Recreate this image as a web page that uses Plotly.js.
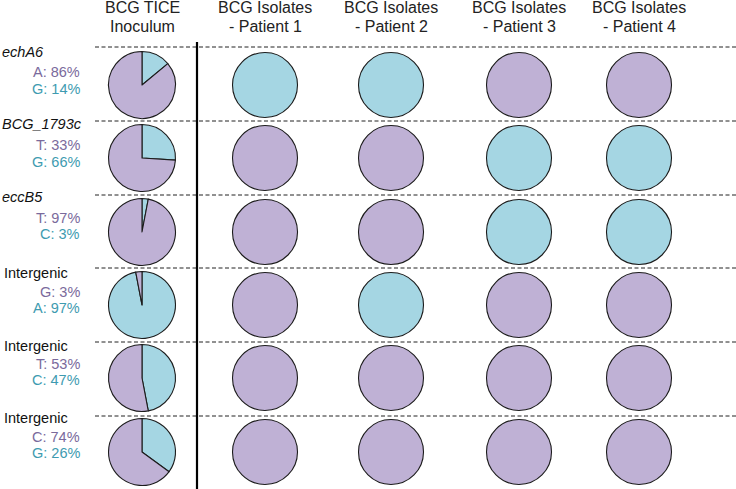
<!DOCTYPE html>
<html>
<head>
<meta charset="utf-8">
<script src="https://cdn.plot.ly/plotly-3.0.1.min.js"></script>
<style>html,body{margin:0;padding:0;background:#fff;}#chart{width:736px;height:489px;}</style>
</head>
<body>
<div id="chart"></div>
<script>
// ---- data ----
const headerLine1 = ['BCG TICE', 'BCG Isolates', 'BCG Isolates', 'BCG Isolates', 'BCG Isolates'];
const headerLine2 = ['Inoculum', '- Patient 1', '- Patient 2', '- Patient 3', '- Patient 4'];
const genes = ['echA6', 'BCG_1793c', 'eccB5', 'Intergenic', 'Intergenic', 'Intergenic'];
const geneItalic = [true, true, true, false, false, false];
const allele1Labels = ['A: 86%', 'T: 33%', 'T: 97%', 'G: 3%', 'T: 53%', 'C: 74%'];
const allele2Labels = ['G: 14%', 'G: 66%', 'C: 3%', 'A: 97%', 'C: 47%', 'G: 26%'];
// inoculum pie slices as drawn (second allele first, clockwise from 12 o'clock)
const inoculumAllele2 = [14, 26, 3, 97, 47, 35];
const inoculumAllele1 = [86, 74, 97, 3, 53, 65];
// isolates: 1 = allele 1 (purple), 2 = allele 2 (blue)
const patient1 = [2, 1, 1, 1, 1, 1];
const patient2 = [2, 1, 1, 2, 1, 1];
const patient3 = [1, 2, 2, 1, 1, 1];
const patient4 = [1, 2, 2, 1, 1, 1];

// ---- layout constants ----
const W = 736, H = 489;
const PURPLE = '#BFB1D5', BLUE = '#A5D6E3';
const PURPLE_TXT = '#7A6A9C', BLUE_TXT = '#3E9BB0';
const colX = [142, 265, 391, 519, 639];
const rowY = [85, 158, 232, 305, 378, 452];
const dashY = [47, 121, 195, 268, 342, 416];
const geneY = [52, 124, 197, 273, 346, 418];
const a1Y = [72, 145, 218, 292, 364, 437];
const a2Y = [89, 162, 234, 308, 380, 453];
const FONT = 'Liberation Sans, Arial, sans-serif';
const px = x => x / W, py = y => 1 - y / H;

function dom(cx, cy, r) {
  return {x: [px(cx - r), px(cx + r)], y: [py(cy + r), py(cy - r)]};
}
const outline = {color: '#1c1c1c', width: 1.1};
const traces = [];
for (let i = 0; i < genes.length; i++) {
  traces.push({
    type: 'pie', values: [inoculumAllele2[i], inoculumAllele1[i]],
    marker: {colors: [BLUE, PURPLE], line: outline},
    sort: false, direction: 'clockwise', rotation: 0,
    textinfo: 'none', hoverinfo: 'skip', showlegend: false,
    domain: dom(colX[0], rowY[i], 33.5)
  });
  [patient1, patient2, patient3, patient4].forEach((p, j) => {
    traces.push({
      type: 'pie', values: [1],
      marker: {colors: [p[i] === 2 ? BLUE : PURPLE], line: outline},
      sort: false, textinfo: 'none', hoverinfo: 'skip', showlegend: false,
      domain: dom(colX[j + 1], rowY[i], 32.5)
    });
  });
}

const annotations = [];
for (let j = 0; j < headerLine1.length; j++) {
  annotations.push({x: px(colX[j]), y: py(7.5), xref: 'paper', yref: 'paper', text: headerLine1[j],
    showarrow: false, xanchor: 'center', yanchor: 'middle', font: {family: FONT, size: 16, color: '#222'}});
  annotations.push({x: px(colX[j]), y: py(26.5), xref: 'paper', yref: 'paper', text: headerLine2[j],
    showarrow: false, xanchor: 'center', yanchor: 'middle', font: {family: FONT, size: 16, color: '#222'}});
}
for (let i = 0; i < genes.length; i++) {
  annotations.push({x: px(geneItalic[i] ? 0 : 2), y: py(geneY[i]), xref: 'paper', yref: 'paper',
    text: geneItalic[i] ? '<i>' + genes[i] + '</i>' : genes[i],
    showarrow: false, xanchor: 'left', yanchor: 'middle', font: {family: FONT, size: 14.5, color: '#111'}});
  annotations.push({x: px(82), y: py(a1Y[i]), xref: 'paper', yref: 'paper', text: allele1Labels[i],
    showarrow: false, xanchor: 'right', yanchor: 'middle', font: {family: FONT, size: 14.5, color: PURPLE_TXT}});
  annotations.push({x: px(82), y: py(a2Y[i]), xref: 'paper', yref: 'paper', text: allele2Labels[i],
    showarrow: false, xanchor: 'right', yanchor: 'middle', font: {family: FONT, size: 14.5, color: BLUE_TXT}});
}

const shapes = dashY.map(y => ({type: 'line', xref: 'paper', yref: 'paper',
  x0: px(95), x1: px(736), y0: py(y), y1: py(y), line: {color: '#222', width: 1, dash: '4px,2.5px'}}));
shapes.push({type: 'line', xref: 'paper', yref: 'paper', x0: px(197), x1: px(197), y0: py(42), y1: py(489),
  line: {color: '#000', width: 2.2}});

const layout = {
  width: W, height: H, margin: {l: 0, r: 0, t: 0, b: 0},
  paper_bgcolor: '#fff', plot_bgcolor: '#fff', showlegend: false,
  annotations: annotations, shapes: shapes, font: {family: FONT}
};
Plotly.newPlot('chart', traces, layout, {staticPlot: true, displayModeBar: false});
</script>
</body>
</html>
